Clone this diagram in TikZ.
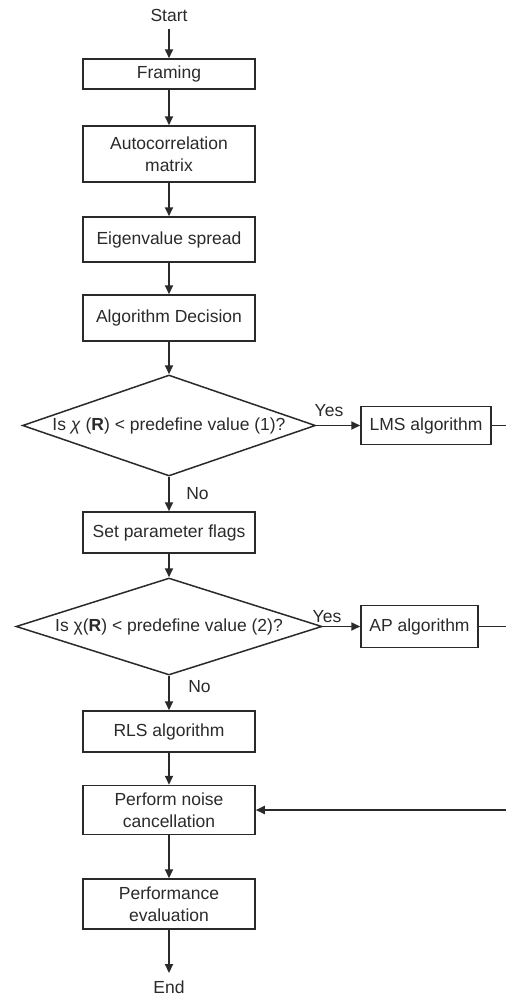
\documentclass[tikz,border=0pt]{standalone}
\usepackage{fontspec}
\setmainfont{Liberation Sans}
\usetikzlibrary{arrows.meta,shapes.geometric}
\definecolor{ink}{HTML}{2A2A2A}
\begin{document}
\begin{tikzpicture}[x=1pt,y=1pt,
  every node/.style={font=\fontsize{17.5}{22}\selectfont, text=ink},
  box/.style={draw=ink, line width=1.5pt, minimum width=172pt, inner sep=0pt, align=center},
  dia/.style={draw=ink, line width=1.5pt, diamond, inner sep=0pt},
  arr/.style={draw=ink, line width=1.8pt, -{Triangle[length=9pt,width=8pt]}},
  ln/.style={draw=ink, line width=1.8pt}]
\useasboundingbox (0,0) rectangle (506,-996);
\node (start) at (169,-15) {Start};
\node[box, minimum height=30pt] (framing) at (169,-74) {Framing};
\node[box, minimum height=56pt] (auto) at (169,-154) {Autocorrelation\\matrix};
\node[box, minimum height=45pt] (eigen) at (169,-239.5) {Eigenvalue spread};
\node[box, minimum height=46pt] (algdec) at (169,-318) {Algorithm Decision};
\node[dia, minimum width=293pt, minimum height=101pt] (d1) at (169,-425.5)
  {\makebox[0pt]{Is \textit{χ} (\textbf{R}) < predefine value (1)?}};
\node[box, minimum width=130pt, minimum height=38pt] (lms) at (426,-425.5) {LMS algorithm};
\node[box, minimum height=41pt] (setp) at (169,-532.5) {Set parameter flags};
\node[dia, minimum width=306pt, minimum height=97pt] (d2) at (169,-626.5)
  {\makebox[0pt]{Is χ(\textbf{R}) < predefine value (2)?}};
\node[box, minimum width=117pt, minimum height=42pt] (ap) at (419.5,-626.5) {AP algorithm};
\node[box, minimum height=41pt] (rls) at (169,-731.5) {RLS algorithm};
\node[box, minimum height=49pt] (pnc) at (169,-810) {Perform noise\\cancellation};
\node[box, minimum height=50pt] (perf) at (169,-904) {Performance\\evaluation};
\node (end) at (169,-987) {End};
\node (yes1) at (329,-411) {Yes};
\node (no1) at (197.5,-494) {No};
\node (yes2) at (327,-617) {Yes};
\node (no2) at (199.5,-687) {No};
\coordinate (r1) at (506,-425.5);
\coordinate (r2) at (506,-626.5);
\coordinate (r3) at (506,-810);
\draw[arr, shorten <=4pt] (start) -- (framing);
\draw[arr] (framing) -- (auto);
\draw[arr] (auto) -- (eigen);
\draw[arr] (eigen) -- (algdec);
\draw[arr] (algdec) -- (d1);
\draw[arr] (d1.east) -- (lms.west);
\draw[ln] (lms.east) -- (r1);
\draw[arr] (d1.south) -- (setp.north);
\draw[arr] (setp) -- (d2.north);
\draw[arr] (d2.east) -- (ap.west);
\draw[ln] (ap.east) -- (r2);
\draw[arr] (d2.south) -- (rls.north);
\draw[arr] (rls) -- (pnc);
\draw[arr] (r3) -- (pnc);
\draw[arr] (pnc) -- (perf);
\draw[arr, shorten >=4pt] (perf) -- (end);
\end{tikzpicture}
\end{document}
